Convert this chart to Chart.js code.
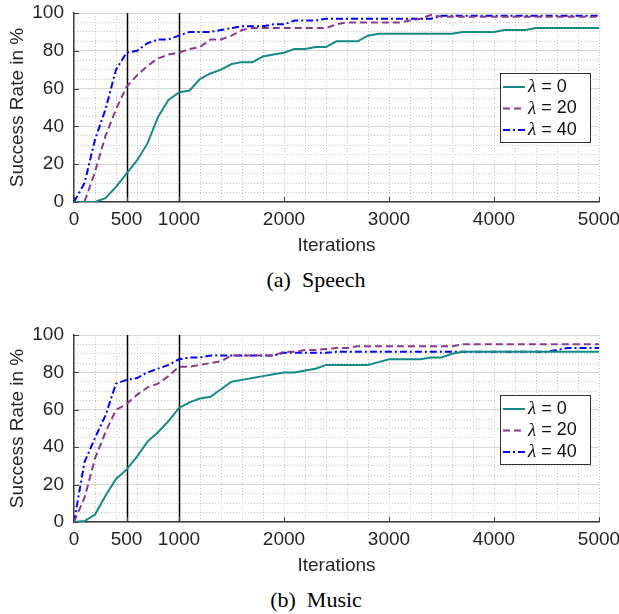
<!DOCTYPE html>
<html>
<head>
<meta charset="utf-8">
<script src="https://cdn.jsdelivr.net/npm/chart.js@4.4.1/dist/chart.umd.min.js"></script>
<style>
  html, body { margin: 0; padding: 0; background: #fff; }
  body { width: 619px; height: 614px; position: relative; overflow: hidden; }
  canvas { position: absolute; left: 0; }
  #speechChart { top: 0; }
  #musicChart { top: 322px; }
  .cap { position: absolute; left: 0; width: 632px; text-align: center;
         font: 22px "Liberation Serif", "Times New Roman", serif; color: #000; }
</style>
</head>
<body>
<canvas id="speechChart" width="619" height="258"></canvas>
<div class="cap" style="top:267px">(a)&nbsp; Speech</div>
<canvas id="musicChart" width="619" height="256"></canvas>
<div class="cap" style="top:587px">(b)&nbsp; Music</div>

<script>
// x positions (iterations) shared by all series
const iters = [0, 100, 200, 300, 400, 500, 600, 700, 800, 900,
  1000, 1100, 1200, 1300, 1400, 1500, 1600, 1700, 1800, 1900,
  2000, 2100, 2200, 2300, 2400, 2500, 2600, 2700, 2800, 2900,
  3000, 3100, 3200, 3300, 3400, 3500, 3600, 3700, 3800, 3900,
  4000, 4100, 4200, 4300, 4400, 4500, 4600, 4700, 4800, 4900, 5000];

const seriesLabels = ["λ = 0", "λ = 20", "λ = 40"];
const xTicks = [0, 500, 1000, 2000, 3000, 4000, 5000];
const yTicks = [0, 20, 40, 60, 80, 100];
const markers = [500, 1000];

// (a) Speech
const speech0 = [0, 0, 0, 2, 8, 15, 22, 31, 45, 54,
  58, 59, 65, 68, 70, 73, 74, 74, 77, 78,
  79, 81, 81, 82, 82, 85, 85, 85, 88, 89,
  89, 89, 89, 89, 89, 89, 89, 90, 90, 90,
  90, 91, 91, 91, 92, 92, 92, 92, 92, 92, 92];
const speech20 = [0, 0, 16, 35, 49, 61, 67, 72, 76, 78,
  79, 81, 82, 86, 86, 88, 91, 92, 92, 92,
  92, 92, 92, 92, 92, 94, 95, 95, 95, 95,
  95, 95, 96, 97, 99, 98, 98, 98, 98, 98,
  98, 98, 98, 98, 98, 98, 98, 98, 98, 98, 98];
const speech40 = [0, 10, 33, 49, 70, 79, 80, 84, 86, 86,
  88, 90, 90, 90, 91, 92, 93, 93, 93, 94,
  94, 96, 96, 96, 97, 97, 97, 97, 97, 97,
  97, 97, 97, 97, 97, 98.5, 98.5, 98.5, 98.5, 98.5,
  98.5, 98.5, 98.5, 98.5, 98.5, 98.5, 98.5, 98.5, 98.5, 98.5, 98.5];

// (b) Music
const music0 = [0, 0.5, 4, 14, 23, 28, 35, 43, 48, 54,
  61, 64, 66, 67, 71, 75, 76, 77, 78, 79,
  80, 80, 81, 82, 84, 84, 84, 84, 84, 85.5,
  87, 87, 87, 87, 88, 88, 90, 91, 91, 91,
  91, 91, 91, 91, 91, 91, 91, 91, 91, 91, 91];
const music20 = [0, 13, 34, 48, 60, 63, 68, 72, 74, 78,
  83, 83, 84, 85, 86, 89, 89, 89, 89, 89,
  91, 91, 92, 92, 92.5, 93, 93, 94, 94, 94,
  94, 94, 94, 94, 94, 94, 94, 95, 95, 95,
  95, 95, 95, 95, 95, 95, 95, 95, 95, 95, 95];
const music40 = [0, 32, 45, 57, 74, 76, 77, 80, 82, 84,
  87, 88, 88, 89, 89, 89, 89, 89, 89, 89,
  90.5, 90.5, 90.5, 90.5, 90.5, 91, 91, 91, 91, 91,
  91, 91, 91, 91, 91, 91, 91, 91, 91, 91,
  91, 91, 91, 91, 91, 91, 92, 93, 93, 93, 93];

const colors = ["#168a84", "#8b3a8b", "#0000ff"];
const dashes = [[], [7, 4], [7, 3, 2, 3]];

const sans = "'Liberation Sans', Arial, Helvetica, sans-serif";
const textColor = "#262626";
const axisFont = { family: sans, size: 19 };

// vertical markers, inward ticks and the boxed legend
const overlay = {
  id: "overlay",
  beforeDatasetsDraw(chart) {
    const { ctx, chartArea: a, scales: { x, y } } = chart;
    ctx.save();
    ctx.strokeStyle = "#000";
    ctx.lineWidth = 1.5;
    markers.forEach(v => {
      const px = Math.round(x.getPixelForValue(v)) + 0.5;
      ctx.beginPath();
      ctx.moveTo(px, a.top);
      ctx.lineTo(px, a.bottom);
      ctx.stroke();
    });
    ctx.strokeStyle = "#404040";
    ctx.lineWidth = 1;
    xTicks.forEach(v => {
      const px = Math.round(x.getPixelForValue(v)) + 0.5;
      ctx.beginPath();
      ctx.moveTo(px, a.bottom);
      ctx.lineTo(px, a.bottom - 5);
      ctx.stroke();
    });
    yTicks.forEach(v => {
      const py = Math.round(y.getPixelForValue(v)) + 0.5;
      ctx.beginPath();
      ctx.moveTo(a.left, py);
      ctx.lineTo(a.left + 5, py);
      ctx.stroke();
    });
    ctx.restore();
  },
  afterDatasetsDraw(chart) {
    const { ctx, chartArea: a } = chart;
    const w = 90, h = 69;
    const left = a.right - 9 - w, top = a.top + 60;
    ctx.save();
    ctx.fillStyle = "#fff";
    ctx.fillRect(left, top, w, h);
    ctx.strokeStyle = "#333";
    ctx.lineWidth = 1;
    ctx.strokeRect(left + 0.5, top + 0.5, w, h);
    chart.data.datasets.forEach((ds, i) => {
      const cy = top + 14 + i * 21.5;
      ctx.strokeStyle = ds.borderColor;
      ctx.lineWidth = 2;
      ctx.setLineDash(ds.borderDash || []);
      ctx.beginPath();
      ctx.moveTo(left + 3, cy);
      ctx.lineTo(left + 25, cy);
      ctx.stroke();
      ctx.setLineDash([]);
      ctx.fillStyle = "#111";
      ctx.textBaseline = "middle";
      const [sym, rest] = [ds.label.slice(0, 1), ds.label.slice(1)];
      ctx.font = "italic 19px 'Liberation Serif', 'Times New Roman', serif";
      ctx.fillText(sym, left + 28, cy);
      const sw = ctx.measureText(sym).width;
      ctx.font = "18px " + sans;
      ctx.fillText(rest, left + 28 + sw, cy);
    });
    ctx.restore();
  }
};

function makeChart(id, series) {
  return new Chart(document.getElementById(id), {
    type: "line",
    data: {
      datasets: series.map((vals, i) => ({
        label: seriesLabels[i],
        data: iters.map((it, k) => ({ x: it, y: vals[k] })),
        borderColor: colors[i],
        borderDash: dashes[i],
        borderWidth: 2,
        pointRadius: 0,
        tension: 0,
        fill: false
      }))
    },
    options: {
      responsive: false,
      animation: false,
      layout: { padding: { top: 13, right: 20, left: 0, bottom: 0 } },
      scales: {
        xMinor: {
          type: "linear", min: 0, max: 5000, position: "bottom",
          ticks: { display: false, stepSize: 200 },
          grid: { color: "#c4c4c4", lineWidth: 1, drawTicks: false },
          border: { display: false, dash: [1, 2] },
          afterFit: s => { s.height = 0; s.paddingLeft = 0; s.paddingRight = 0; }
        },
        yMinor: {
          type: "linear", min: 0, max: 100, position: "left",
          ticks: { display: false, stepSize: 5 },
          grid: { color: "#c4c4c4", lineWidth: 1, drawTicks: false },
          border: { display: false, dash: [1, 2] },
          afterFit: s => { s.width = 0; s.paddingTop = 0; s.paddingBottom = 0; }
        },
        x: {
          type: "linear", min: 0, max: 5000, position: "bottom",
          afterBuildTicks: s => { s.ticks = xTicks.map(v => ({ value: v })); },
          ticks: { font: axisFont, color: textColor, padding: 6, maxRotation: 0,
                   autoSkip: false, callback: v => String(v) },
          grid: { display: false, drawTicks: false },
          border: { display: true, color: "#404040", width: 1.5 },
          title: { display: true, text: "Iterations", font: axisFont, color: textColor,
                   padding: { top: 0, bottom: 1 } },
          afterFit: s => { s.height = 56; s.paddingLeft = 0; s.paddingRight = 0; }
        },
        y: {
          type: "linear", min: 0, max: 100, position: "left",
          afterBuildTicks: s => { s.ticks = yTicks.map(v => ({ value: v })); },
          ticks: { font: axisFont, color: textColor, padding: 10, callback: v => String(v) },
          grid: { color: "#d6d6d6", lineWidth: 1, drawTicks: false },
          border: { display: true, color: "#404040", width: 1.5 },
          title: { display: true, text: "Success Rate in %", font: axisFont, color: textColor,
                   padding: { top: 6, bottom: 0 } },
          afterFit: s => { s.width = 74; s.paddingTop = 0; s.paddingBottom = 0; }
        }
      },
      plugins: {
        legend: { display: false },
        tooltip: { enabled: false }
      }
    },
    plugins: [overlay]
  });
}

makeChart("speechChart", [speech0, speech20, speech40]);
makeChart("musicChart", [music0, music20, music40]);
</script>
</body>
</html>
